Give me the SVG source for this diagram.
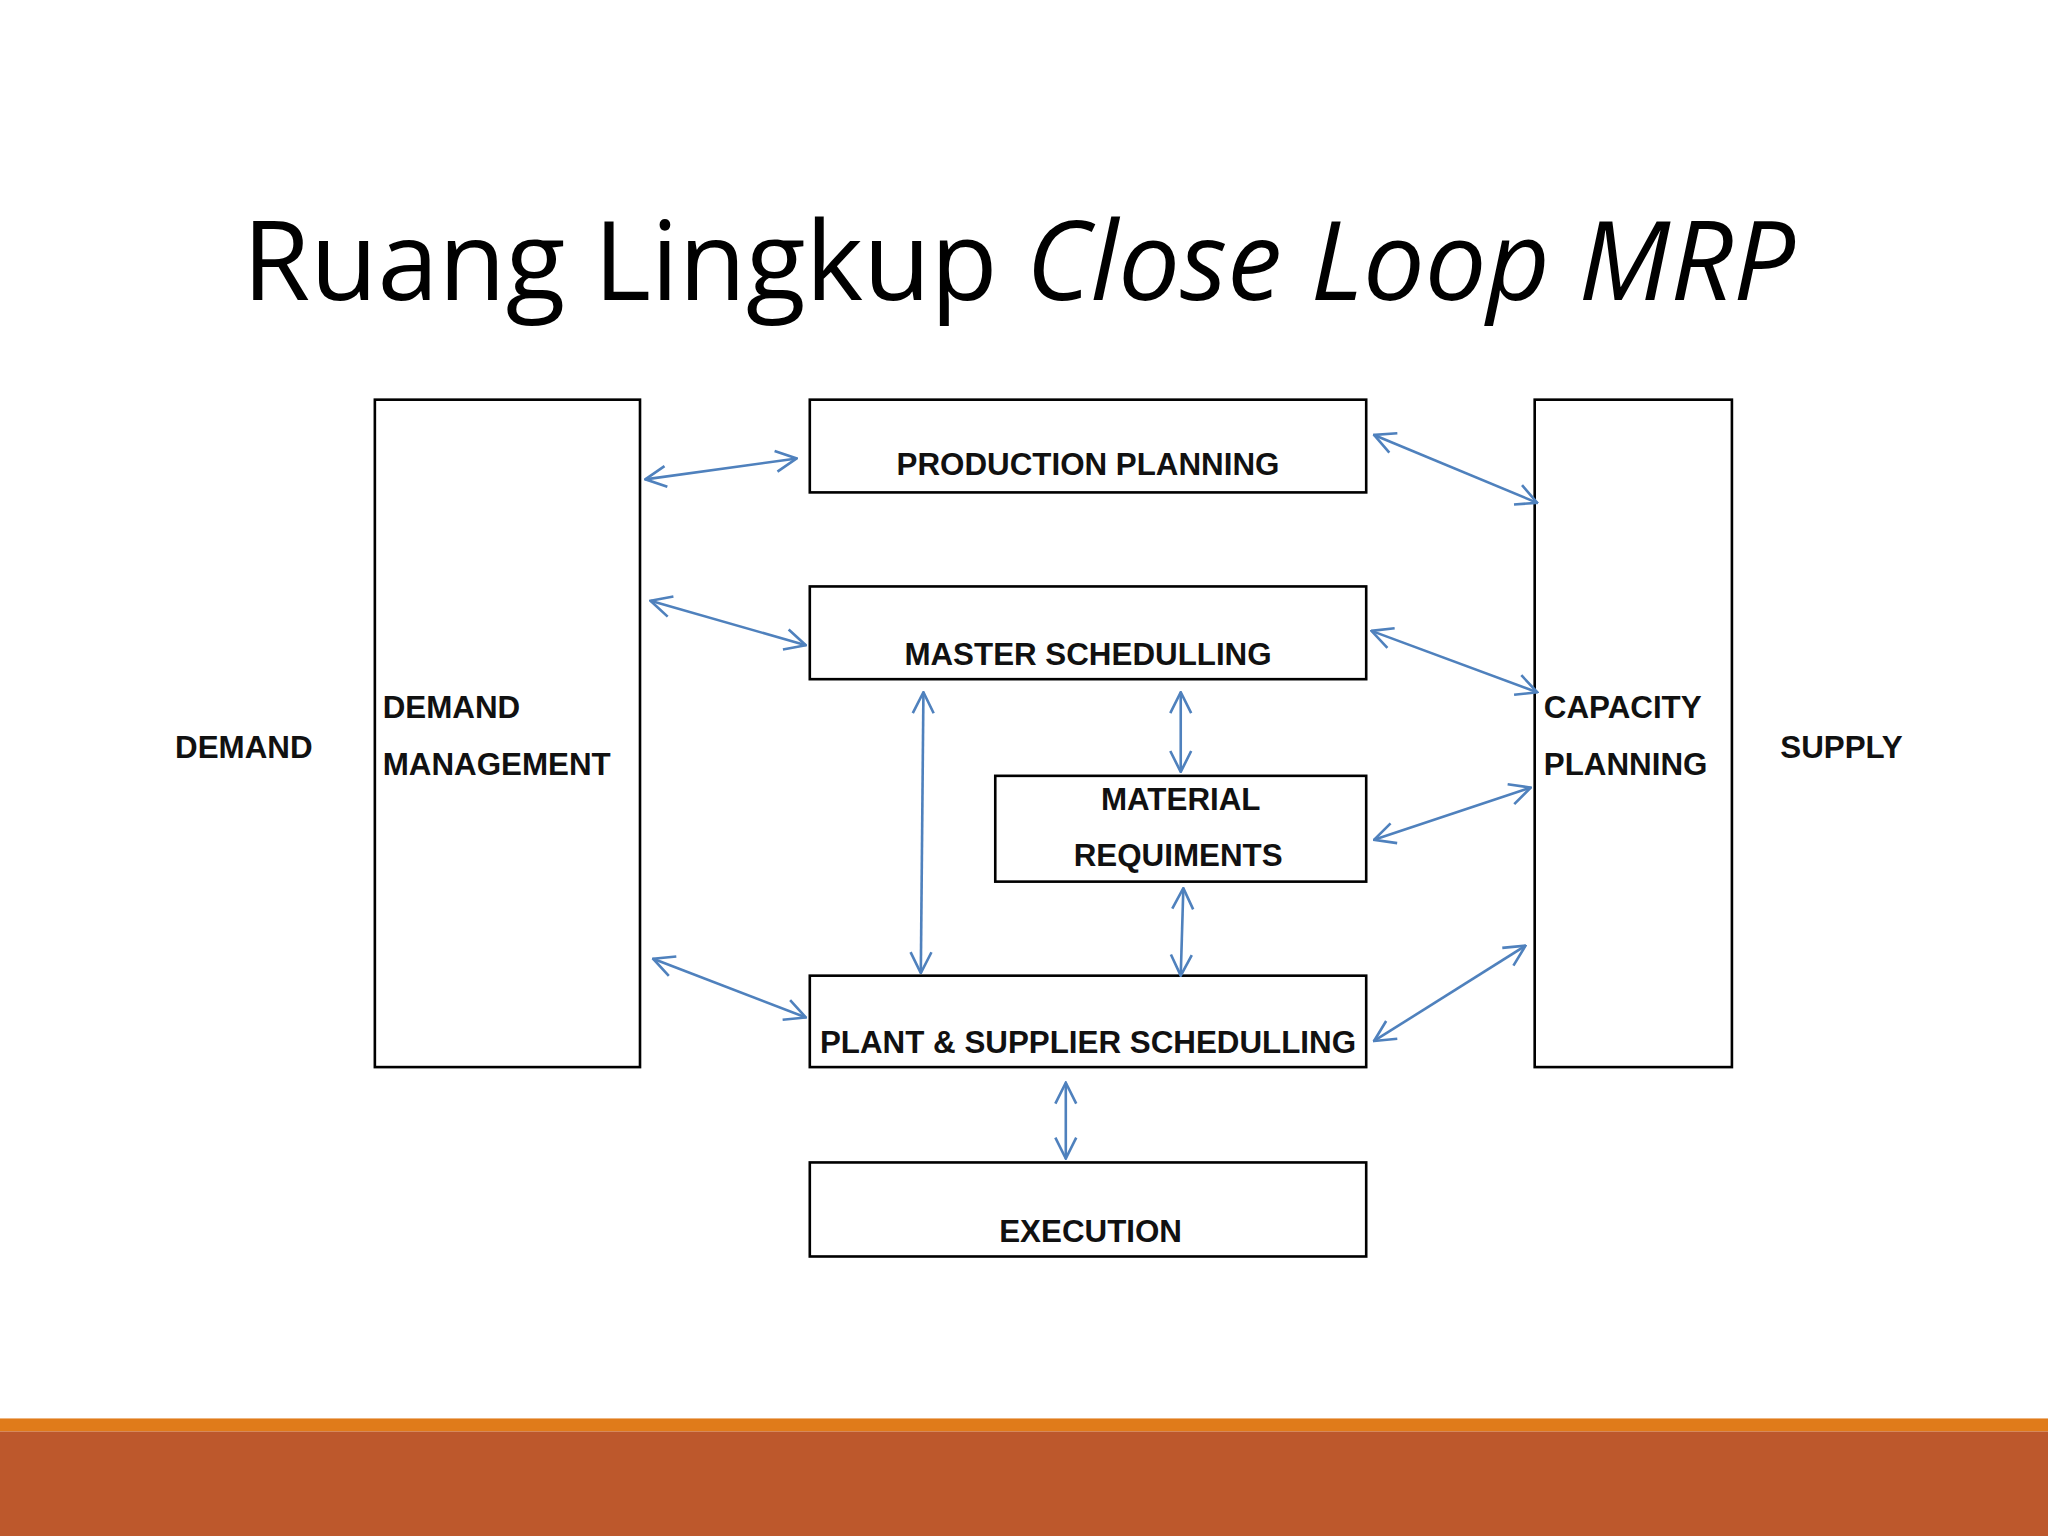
<svg xmlns="http://www.w3.org/2000/svg" width="2048" height="1536" viewBox="0 0 2048 1536">
<style>
.b{fill:#fff;stroke:#000;stroke-width:2}
.t{font-family:"Liberation Sans",Arial,sans-serif;font-size:24px;fill:#111;font-weight:bold}
.c line{stroke:#4f81bd;stroke-width:2;marker-start:url(#a);marker-end:url(#a)}
</style>
<defs><marker id="a" viewBox="0 0 20 20" refX="19" refY="10" markerWidth="20" markerHeight="20" markerUnits="userSpaceOnUse" orient="auto-start-reverse"><polyline points="3,2 19,10 3,18" fill="none" stroke="#4f81bd" stroke-width="2"/></marker></defs>
<rect width="2048" height="1536" fill="#fff"/>
<g transform="scale(1.30612)">
<text x="780" y="230" text-anchor="middle" font-family="Open Sans,Liberation Sans,sans-serif" font-size="84" fill="#000">Ruang Lingkup <tspan font-style="italic">Close Loop MRP</tspan></text>
<text class="t" x="134" y="580" font-weight="normal">DEMAND</text>
<text class="t" x="1363" y="580">SUPPLY</text>
<g id="dm"><rect class="b" x="287" y="306" width="203" height="511"/><text class="t" x="293" y="550">DEMAND</text><text class="t" x="293" y="593">MANAGEMENT</text></g>
<g id="pp"><rect class="b" x="620" y="306" width="426" height="71"/><text class="t" x="833" y="364" text-anchor="middle">PRODUCTION PLANNING</text></g>
<g id="ms"><rect class="b" x="620" y="449" width="426" height="71"/><text class="t" x="833" y="509" text-anchor="middle">MASTER SCHEDULLING</text></g>
<g id="mr"><rect class="b" x="762" y="594" width="284" height="81"/><text class="t" x="904" y="620" text-anchor="middle">MATERIAL</text><text class="t" x="902" y="663" text-anchor="middle">REQUIMENTS</text></g>
<g id="ps"><rect class="b" x="620" y="747" width="426" height="70"/><text class="t" x="833" y="806" text-anchor="middle">PLANT &amp; SUPPLIER SCHEDULLING</text></g>
<g id="ex"><rect class="b" x="620" y="890" width="426" height="72"/><text class="t" x="835" y="951" text-anchor="middle">EXECUTION</text></g>
<g id="cp"><rect class="b" x="1175" y="306" width="151" height="511"/><text class="t" x="1182" y="550">CAPACITY</text><text class="t" x="1182" y="593">PLANNING</text></g>
<g class="c" id="connectors">
<line x1="494" y1="367" x2="610" y2="351"/>
<line x1="498" y1="460" x2="617" y2="494"/>
<line x1="500" y1="734" x2="617" y2="779"/>
<line x1="1052" y1="333" x2="1177" y2="385"/>
<line x1="1050" y1="483" x2="1177" y2="530"/>
<line x1="1052" y1="643" x2="1172" y2="603"/>
<line x1="1052" y1="797" x2="1168" y2="724"/>
<line x1="707" y1="530" x2="705" y2="745"/>
<line x1="904" y1="530" x2="904" y2="591"/>
<line x1="906" y1="680" x2="904" y2="747"/>
<line x1="816" y1="829" x2="816" y2="887"/>
</g>
<rect x="0" y="1086" width="1568" height="10" fill="#e07b1a"/>
<rect x="0" y="1096" width="1568" height="80" fill="#bd582c"/>
</g>
</svg>
